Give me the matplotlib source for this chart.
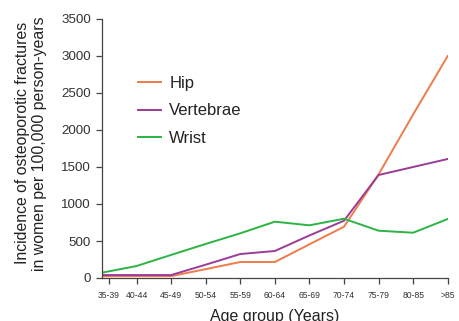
import numpy as np
import matplotlib
matplotlib.use("Agg")
import matplotlib.pyplot as plt

plt.rcParams['font.family'] = ['Liberation Sans', 'DejaVu Sans']

age_groups = ["35-39", "40-44", "45-49", "50-54", "55-59", "60-64",
              "65-69", "70-74", "75-79", "80-85", ">85"]
hip = [25, 25, 25, 120, 216, 216, 455, 693, 1400, 2210, 3000]
vertebrae = [40, 40, 40, 180, 324, 365, 575, 774, 1392, 1500, 1608]
wrist = [72, 162, 312, 460, 604, 761, 712, 801, 639, 612, 797]

colors = {"Hip": "#EF7B4B", "Vertebrae": "#9B3C96", "Wrist": "#2BB443"}

fig = plt.figure(figsize=(4.59, 3.21), dpi=100)
ax = fig.add_axes([102/459, 1-278/321, 345.7/459, 259/321])

x = np.arange(len(age_groups))
ax.plot(x, hip, color=colors["Hip"], lw=1.4, label="Hip")
ax.plot(x, vertebrae, color=colors["Vertebrae"], lw=1.4, label="Vertebrae")
ax.plot(x, wrist, color=colors["Wrist"], lw=1.4, label="Wrist")

ax.set_xlim(0, len(age_groups) - 1)
ax.set_ylim(0, 3500)
ax.set_yticks(np.arange(0, 3501, 500))
xt = x.astype(float)
xt[0] = 0.2
ax.set_xticks(xt)
ax.set_xticklabels(age_groups, fontsize=6.2, color="#333333")
ax.tick_params(axis='x', length=4, width=0.9, color="#444444", pad=5)
ax.tick_params(axis='y', length=4, width=0.9, color="#444444", pad=4,
               labelsize=9.6, labelcolor="#333333")

for s in ["top", "right"]:
    ax.spines[s].set_visible(False)
for s in ["left", "bottom"]:
    ax.spines[s].set_color("#444444")
    ax.spines[s].set_linewidth(0.9)

ax.set_ylabel("Incidence of osteoporotic fractures\nin women per 100,000 person-years",
              fontsize=11.4, color="#222222", linespacing=1.2)
ax.yaxis.set_label_coords(-0.158, 0.52)
ax.set_xlabel("Age group (Years)", fontsize=11.5, color="#222222", labelpad=7)

leg = ax.legend(loc="upper left", bbox_to_anchor=(0.105, 0.78), frameon=False,
                fontsize=12, handlelength=1.35, handletextpad=0.5,
                labelspacing=0.75, borderpad=0, borderaxespad=0)
for t in leg.get_texts():
    t.set_color("#222222")

fig.savefig("out.png", dpi=100)
